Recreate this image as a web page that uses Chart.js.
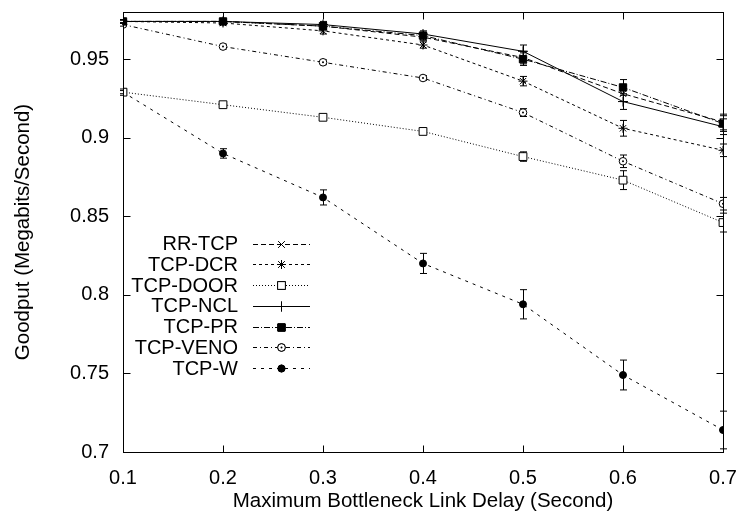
<!DOCTYPE html>
<html>
<head>
<meta charset="utf-8">
<script src="https://cdn.jsdelivr.net/npm/chart.js@4/dist/chart.umd.min.js"></script>
<style>
html,body{margin:0;padding:0;background:#fff;}
#wrap{width:744px;height:521px;position:relative;}
</style>
</head>
<body>
<div id="wrap"><canvas id="c" width="744" height="521"></canvas></div>
<script>
// ---- data ----
const delays = [0.1, 0.2, 0.3, 0.4, 0.5, 0.6, 0.7];
const xTicks = [0.1, 0.2, 0.3, 0.4, 0.5, 0.6, 0.7];
const yTicks = [0.7, 0.75, 0.8, 0.85, 0.9, 0.95];
const seriesNames = ['RR-TCP', 'TCP-DCR', 'TCP-DOOR', 'TCP-NCL', 'TCP-PR', 'TCP-VENO', 'TCP-W'];

const rrTcp   = [0.974, 0.974, 0.971, 0.964, 0.951, 0.928, 0.910];
const tcpDcr  = [0.974, 0.973, 0.968, 0.959, 0.936, 0.906, 0.892];
const tcpDoor = [0.929, 0.921, 0.913, 0.904, 0.888, 0.873, 0.846];
const tcpNcl  = [0.974, 0.974, 0.972, 0.966, 0.955, 0.923, 0.907];
const tcpPr   = [0.974, 0.974, 0.971, 0.965, 0.950, 0.932, 0.909];
const tcpVeno = [0.972, 0.958, 0.948, 0.938, 0.916, 0.885, 0.858];
const tcpW    = [0.929, 0.890, 0.862, 0.820, 0.794, 0.749, 0.714];

// error-bar half widths
const errRr   = [0.001, 0.001, 0.002, 0.002, 0.004, 0.005, 0.005];
const errDcr  = [0.001, 0.001, 0.002, 0.002, 0.003, 0.005, 0.004];
const errDoor = [0.001, 0.0015, 0.0015, 0.0015, 0.003, 0.006, 0.006];
const errNcl  = [0.001, 0.001, 0.002, 0.002, 0.004, 0.005, 0.005];
const errPr   = [0.001, 0.001, 0.002, 0.002, 0.004, 0.005, 0.005];
const errVeno = [0.001, 0.0015, 0.0015, 0.0015, 0.0025, 0.004, 0.004];
const errW    = [0.002, 0.003, 0.0048, 0.0064, 0.0093, 0.0095, 0.012];

const allValues = [rrTcp, tcpDcr, tcpDoor, tcpNcl, tcpPr, tcpVeno, tcpW];
const allErrors = [errRr, errDcr, errDoor, errNcl, errPr, errVeno, errW];

// ---- styles ----
const FONT = 'Liberation Sans, Arial, Helvetica, sans-serif';
const styles = [
  {dash: [5, 3],        point: 'crossRot', r: 4.5, fill: '#000', dot: false},
  {dash: [3, 3],        point: 'star',     r: 4.5, fill: '#000', dot: false},
  {dash: [1, 2],        point: 'rect',     r: 5.5, fill: '#fff', dot: false},
  {dash: [],            point: 'cross',    r: 5,   fill: '#000', dot: false},
  {dash: [6, 2, 1, 2],  point: 'rect',     r: 5.2, fill: '#000', dot: false},
  {dash: [4, 3, 1, 3],  point: 'circle',   r: 3.8, fill: '#fff', dot: true},
  {dash: [3, 5],        point: 'circle',   r: 3.5, fill: '#000', dot: false}
];

const datasets = seriesNames.map((name, i) => ({
  label: name,
  data: delays.map((d, j) => ({x: d, y: allValues[i][j]})),
  borderColor: '#000',
  borderWidth: 1,
  borderDash: styles[i].dash,
  pointStyle: styles[i].point,
  pointRadius: styles[i].r,
  pointBorderWidth: 1,
  pointBorderColor: '#000',
  pointBackgroundColor: styles[i].fill,
  fill: false,
  tension: 0
}));

const errorBarPlugin = {
  id: 'errorBars',
  beforeDatasetsDraw(chart) {
    const ctx = chart.ctx, xs = chart.scales.x, ys = chart.scales.y;
    ctx.save();
    ctx.strokeStyle = '#000';
    ctx.lineWidth = 1;
    ctx.setLineDash([]);
    allValues.forEach((vals, i) => {
      vals.forEach((v, j) => {
        const e = allErrors[i][j];
        const px = Math.round(xs.getPixelForValue(delays[j])) + 0.5;
        const yt = ys.getPixelForValue(v + e);
        const yb = ys.getPixelForValue(v - e);
        ctx.beginPath();
        ctx.moveTo(px, yt); ctx.lineTo(px, yb);
        ctx.moveTo(px - 3.5, yt); ctx.lineTo(px + 3.5, yt);
        ctx.moveTo(px - 3.5, yb); ctx.lineTo(px + 3.5, yb);
        ctx.stroke();
      });
    });
    ctx.restore();
  },
  afterDatasetsDraw(chart) {
    // centre dots of gnuplot-style open circles
    const ctx = chart.ctx;
    ctx.save();
    ctx.fillStyle = '#000';
    chart.data.datasets.forEach((ds, i) => {
      if (!styles[i].dot) return;
      chart.getDatasetMeta(i).data.forEach(pt => {
        ctx.beginPath();
        ctx.arc(pt.x, pt.y, 1, 0, Math.PI * 2);
        ctx.fill();
      });
    });
    ctx.restore();
  }
};

const framePlugin = {
  id: 'frame',
  afterDraw(chart) {
    const ctx = chart.ctx, a = chart.chartArea, xs = chart.scales.x, ys = chart.scales.y;
    ctx.save();
    ctx.strokeStyle = '#000';
    ctx.lineWidth = 1;
    ctx.setLineDash([]);
    const L = Math.round(a.left) + 0.5, R = Math.round(a.right) + 0.5;
    const T = Math.round(a.top) + 0.5, B = Math.round(a.bottom) + 0.5;
    ctx.strokeRect(L, T, R - L, B - T);
    const tl = 7;
    ctx.beginPath();
    xTicks.forEach(v => {
      const px = Math.round(xs.getPixelForValue(v)) + 0.5;
      ctx.moveTo(px, B); ctx.lineTo(px, B - tl);
      ctx.moveTo(px, T); ctx.lineTo(px, T + tl);
    });
    yTicks.forEach(v => {
      const py = Math.round(ys.getPixelForValue(v)) + 0.5;
      ctx.moveTo(L, py); ctx.lineTo(L + tl, py);
      ctx.moveTo(R, py); ctx.lineTo(R - tl, py);
    });
    ctx.stroke();

    // legend (gnuplot style: right-aligned text, sample to the right)
    const textRight = 238, sx0 = 253, sx1 = 310, sxm = 281.5;
    const row0 = 243.5, rowH = 20.75;
    ctx.font = '20px ' + FONT;
    ctx.textAlign = 'right';
    ctx.textBaseline = 'middle';
    ctx.fillStyle = '#000';
    chart.data.datasets.forEach((ds, i) => {
      const y = row0 + i * rowH;
      ctx.fillText(ds.label, textRight, y + 1);
      const yy = Math.round(y) + 0.5;
      ctx.setLineDash(ds.borderDash);
      ctx.beginPath();
      ctx.moveTo(sx0, yy); ctx.lineTo(sx1, yy);
      ctx.stroke();
      ctx.setLineDash([]);
      Chart.helpers.drawPoint(ctx, {
        pointStyle: ds.pointStyle, radius: ds.pointRadius, borderWidth: 1, rotation: 0
      }, sxm, yy);
      ctx.fillStyle = ds.pointBackgroundColor;
      ctx.fill();
      ctx.stroke();
      ctx.fillStyle = '#000';
      if (styles[i].dot) {
        ctx.beginPath();
        ctx.arc(sxm, yy, 1, 0, Math.PI * 2);
        ctx.fill();
      }
    });
    ctx.restore();
  }
};

new Chart(document.getElementById('c'), {
  type: 'line',
  data: {datasets},
  plugins: [errorBarPlugin, framePlugin],
  options: {
    responsive: false,
    animation: false,
    devicePixelRatio: 1,
    layout: {padding: {top: 12, right: 21, left: 0, bottom: 0}},
    plugins: {legend: {display: false}, tooltip: {enabled: false}},
    scales: {
      x: {
        type: 'linear',
        min: 0.1, max: 0.7,
        afterBuildTicks(s) { s.ticks = xTicks.map(v => ({value: v})); },
        afterFit(s) { s.height = 69; s.paddingLeft = 0; s.paddingRight = 0; },
        grid: {display: false, drawTicks: false},
        border: {display: false},
        ticks: {
          color: '#000', padding: 16,
          font: {family: FONT, size: 20, lineHeight: 1},
          maxRotation: 0,
          callback: v => String(Math.round(v * 100) / 100)
        },
        title: {
          display: true, text: 'Maximum Bottleneck Link Delay (Second)',
          color: '#000', font: {family: FONT, size: 20.5, lineHeight: 1.2},
          padding: {top: 0, bottom: 7}
        }
      },
      y: {
        type: 'linear',
        min: 0.7, max: 0.98,
        afterBuildTicks(s) { s.ticks = yTicks.map(v => ({value: v})); },
        afterFit(s) { s.width = 123; s.paddingTop = 0; s.paddingBottom = 0; },
        grid: {display: false, drawTicks: false},
        border: {display: false},
        ticks: {
          color: '#000', padding: 14,
          font: {family: FONT, size: 20, lineHeight: 1},
          callback: v => String(Math.round(v * 100) / 100)
        },
        title: {
          display: true, text: 'Goodput (Megabits/Second)',
          color: '#000', font: {family: FONT, size: 20.5, lineHeight: 1.2},
          padding: {top: 11, bottom: 0}
        }
      }
    }
  }
});
</script>
</body>
</html>
